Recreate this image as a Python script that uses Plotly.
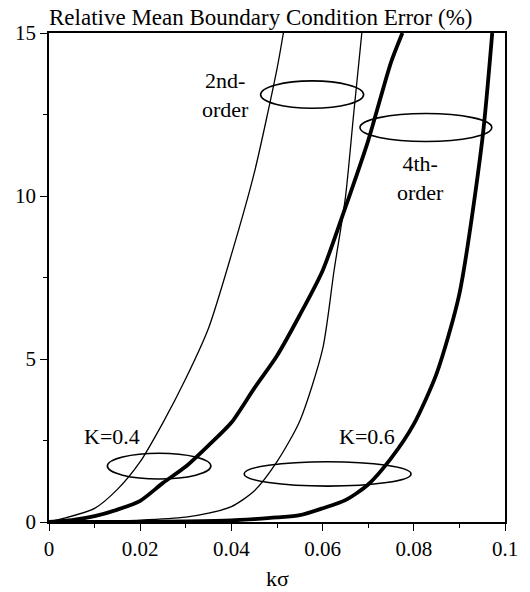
import plotly.graph_objects as go

# 2nd-order, K=0.4 (thin)
x2_k04 = [0, 0.01, 0.015, 0.02, 0.025, 0.03, 0.035, 0.04, 0.045, 0.05, 0.0514]
y2_k04 = [0, 0.42, 1.0, 1.85, 3.05, 4.4, 5.95, 8.2, 10.7, 13.9, 15.0]

# 2nd-order, K=0.6 (thin)
x2_k06 = [0, 0.01, 0.02, 0.03, 0.035, 0.04, 0.045, 0.05, 0.055, 0.06, 0.0625, 0.065, 0.0668, 0.0686]
y2_k06 = [0, 0.02, 0.06, 0.15, 0.27, 0.47, 0.95, 1.85, 3.1, 5.3, 7.7, 9.95, 12.5, 15.0]

# 4th-order, K=0.4 (thick)
x4_k04 = [0, 0.005, 0.01, 0.015, 0.02, 0.025, 0.03, 0.035, 0.04, 0.045, 0.05, 0.055, 0.06, 0.065, 0.07, 0.075, 0.0775]
y4_k04 = [0, 0.06, 0.18, 0.38, 0.65, 1.2, 1.7, 2.35, 3.05, 4.1, 5.1, 6.35, 7.71, 9.65, 11.7, 14.1, 15.0]

# 4th-order, K=0.6 (thick)
x4_k06 = [0, 0.02, 0.03, 0.04, 0.045, 0.05, 0.055, 0.06, 0.065, 0.07, 0.075, 0.08, 0.085, 0.09, 0.095, 0.0972]
y4_k06 = [0, 0.005, 0.02, 0.05, 0.09, 0.14, 0.21, 0.42, 0.67, 1.15, 1.95, 3.0, 4.55, 7.0, 11.7, 15.0]

# ellipse groupings (x0, x1, y0, y1)
ellipses = [
    (0.0128, 0.0355, 1.32, 2.11),
    (0.0428, 0.0794, 1.10, 1.85),
    (0.0464, 0.0690, 12.69, 13.53),
    (0.0682, 0.0971, 11.67, 12.53),
]

labels = [
    ("K=0.4", 0.0139, 2.61),
    ("K=0.6", 0.0697, 2.61),
    ("2nd-<br>order", 0.0387, 13.1),
    ("4th-<br>order", 0.0814, 10.56),
]

FONT = "Liberation Serif, Times New Roman, serif"

fig = go.Figure()
for xs, ys, w in [(x2_k04, y2_k04, 1.3), (x2_k06, y2_k06, 1.3),
                  (x4_k04, y4_k04, 3.8), (x4_k06, y4_k06, 3.8)]:
    fig.add_trace(go.Scatter(x=xs, y=ys, mode="lines",
                             line=dict(color="black", width=w, shape="spline", smoothing=0.7),
                             showlegend=False, hoverinfo="skip", cliponaxis=True))

for x0, x1, y0, y1 in ellipses:
    fig.add_shape(type="circle", xref="x", yref="y", x0=x0, x1=x1, y0=y0, y1=y1,
                  line=dict(color="black", width=1.6))

for t, x, y in labels:
    fig.add_annotation(x=x, y=y, text=t, showarrow=False,
                       font=dict(family=FONT, size=22, color="black"),
                       xanchor="center", yanchor="middle")

fig.add_annotation(x=0.05, y=0, xref="x", yref="paper", text="kσ", showarrow=False,
                   yshift=-56, yanchor="middle",
                   font=dict(family=FONT, size=22, color="black"))

fig.update_layout(
    width=530, height=592,
    margin=dict(l=49, r=13, t=33, b=70),
    paper_bgcolor="white", plot_bgcolor="white",
    font=dict(family=FONT, size=20, color="black"),
    title=dict(text="Relative Mean Boundary Condition Error (%)",
               x=0, xref="paper", xanchor="left",
               y=1 - 17 / 592, yref="container", yanchor="middle",
               font=dict(family=FONT, size=23, color="black")),
)

fig.update_xaxes(range=[0, 0.1], tickvals=[0, 0.02, 0.04, 0.06, 0.08, 0.1],
                 ticktext=["0", "0.02", "0.04", "0.06", "0.08", "0.1"],
                 ticks="outside", ticklen=7, tickwidth=1.2, tickcolor="black",
                 minor=dict(dtick=0.01, ticks="outside", ticklen=4, tickcolor="black"),
                 showline=True, linecolor="black", linewidth=1.6, mirror=True,
                 showgrid=False, zeroline=False, ticklabeloverflow="allow",
                 tickfont=dict(family=FONT, size=21, color="black"))
fig.update_yaxes(range=[0, 15], tickvals=[0, 5, 10, 15],
                 ticks="outside", ticklen=7, tickwidth=1.2, tickcolor="black",
                 minor=dict(dtick=2.5, ticks="outside", ticklen=4, tickcolor="black"),
                 showline=True, linecolor="black", linewidth=1.6, mirror=True,
                 showgrid=False, zeroline=False, ticklabeloverflow="allow",
                 tickfont=dict(family=FONT, size=21, color="black"))

fig.write_html("out.html")
